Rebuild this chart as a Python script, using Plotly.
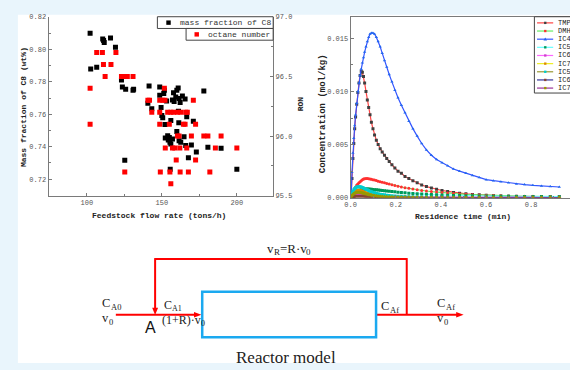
import plotly.graph_objects as go

W, H = 570, 370


def px(x):
    return x / W


def py(y):
    return 1 - y / H


# ---------------- Left chart data ----------------
flow_c8 = [102.2, 102.6, 106.6, 110.6, 111.2, 111.6, 115.8, 119.1, 123.1, 123.7,
           125.9, 130.8, 131.2, 125.3, 141.5, 140.7, 143.3, 148.6, 148.6, 149.5,
           150.0, 150.6, 151.3, 151.7, 153.2, 152.1, 156.0, 152.3, 153.9, 155.0,
           154.3, 155.4, 156.0, 157.1, 155.6, 157.1, 157.8, 158.2, 159.3, 160.0,
           160.9, 161.5, 162.2, 161.1, 161.3, 160.0, 161.5, 162.6, 163.7, 165.5,
           164.8, 166.6, 165.9, 167.7, 169.7, 171.0, 173.0, 178.0, 180.7, 189.5,
           200.0]
mass_fraction_c8 = [0.810, 0.788, 0.789, 0.8065, 0.8055, 0.8043, 0.807, 0.8013, 0.7812, 0.7768,
                    0.7754, 0.7748, 0.7754, 0.7316, 0.7774, 0.7668, 0.7634, 0.7768, 0.7718, 0.7642,
                    0.7592, 0.7578, 0.7728, 0.7748, 0.7682, 0.7537, 0.7561, 0.7453, 0.7467, 0.7457,
                    0.7441, 0.7427, 0.7417, 0.7447, 0.726, 0.7688, 0.7732, 0.7678, 0.7707, 0.7748,
                    0.7762, 0.7698, 0.7672, 0.7618, 0.7547, 0.7493, 0.7437, 0.7427, 0.7712, 0.7694,
                    0.7461, 0.7584, 0.7407, 0.7331, 0.7411, 0.7557, 0.7367, 0.7744, 0.7397, 0.7391,
                    0.726]

flow_ron = [102.2, 102.2, 106.6, 110.4, 111.1, 112.2, 116.1, 119.4, 123.1, 125.3,
            127.0, 130.8, 125.3, 140.7, 141.8, 143.3, 148.6, 148.6, 148.6, 149.0,
            150.6, 151.7, 152.1, 152.3, 153.9, 155.0, 155.4, 156.0, 156.0, 157.1,
            157.8, 158.7, 159.6, 160.4, 160.4, 161.5, 162.0, 162.2, 162.6, 164.4,
            165.5, 165.9, 167.0, 166.6, 167.7, 169.7, 171.0, 172.5, 172.5, 178.0,
            180.7, 182.0, 185.7, 189.5, 200.0]
octane_number = [96.40, 96.10, 96.70, 96.70, 96.60, 96.50, 96.60, 96.70, 96.50, 96.50,
                 96.50, 96.50, 95.70, 96.30, 96.30, 96.20, 96.30, 96.20, 96.10, 95.70,
                 96.30, 96.40, 96.30, 95.90, 96.20, 96.10, 95.70, 96.20, 95.60, 95.90,
                 96.20, 95.90, 95.80, 96.20, 96.00, 96.00, 95.90, 95.70, 96.20, 96.10,
                 96.10, 96.20, 96.20, 95.90, 95.70, 96.00, 96.30, 96.10, 95.80, 96.00,
                 96.00, 95.70, 95.90, 96.00, 95.90]

# ---------------- Right chart data ----------------
time_min = [0, 0.003, 0.006, 0.010, 0.014, 0.018, 0.022, 0.027, 0.032, 0.037,
            0.042, 0.047, 0.052, 0.057, 0.062, 0.068, 0.074, 0.080, 0.086, 0.092,
            0.099, 0.106, 0.114, 0.122, 0.131, 0.140, 0.150, 0.160, 0.171, 0.183,
            0.196, 0.210, 0.225, 0.241, 0.258, 0.276, 0.295, 0.315, 0.336, 0.358,
            0.381, 0.405, 0.430, 0.456, 0.483, 0.511, 0.540, 0.570, 0.601, 0.633,
            0.666, 0.700, 0.735, 0.771, 0.808, 0.846, 0.885, 0.925]

tmp = [0, 0.0005, 0.0018, 0.0037, 0.0051, 0.0065, 0.0076, 0.0088, 0.0099, 0.0108,
       0.0115, 0.0119, 0.0118, 0.0114, 0.0108, 0.0100, 0.0092, 0.0085, 0.0078, 0.0071,
       0.0065, 0.0059, 0.0054, 0.0050, 0.0046, 0.0043, 0.0040, 0.0037, 0.0034, 0.0031,
       0.0028, 0.0025, 0.0023, 0.0020, 0.0018, 0.0016, 0.0014, 0.0012, 0.00105, 0.00092,
       0.00080, 0.00068, 0.00059, 0.00050, 0.00043, 0.00037, 0.00031, 0.00027, 0.00023, 0.00020,
       0.00017, 0.00015, 0.00013, 0.00012, 0.00011, 0.00010, 0.00009, 0.00008]

dmh = [0, 0.0001, 0.0002, 0.0004, 0.0006, 0.0008, 0.0010, 0.0012, 0.0013, 0.0014,
       0.0015, 0.0016, 0.0017, 0.00175, 0.00179, 0.0018, 0.0018, 0.00179, 0.00177, 0.00174,
       0.00170, 0.00166, 0.00161, 0.00156, 0.00150, 0.00145, 0.00140, 0.00134, 0.00128, 0.00122,
       0.00115, 0.00108, 0.00101, 0.00094, 0.00088, 0.00081, 0.00075, 0.00069, 0.00063, 0.00058,
       0.00053, 0.00048, 0.00044, 0.00040, 0.00036, 0.00032, 0.00029, 0.00026, 0.00023, 0.00021,
       0.00019, 0.00017, 0.00015, 0.00014, 0.00013, 0.00012, 0.00011, 0.00010]

ic4 = [0, 0.0006, 0.0024, 0.0042, 0.0056, 0.0068, 0.0078, 0.0089, 0.0100, 0.0108,
       0.0115, 0.0121, 0.0127, 0.0132, 0.0137, 0.0142, 0.0147, 0.0151, 0.0154, 0.0155,
       0.0155, 0.0154, 0.0151, 0.0147, 0.0142, 0.0136, 0.0129, 0.0123, 0.0116, 0.0109,
       0.0101, 0.0094, 0.0087, 0.0080, 0.0072, 0.0065, 0.0058, 0.0051, 0.0045, 0.0040,
       0.0036, 0.0033, 0.0030, 0.0027, 0.0025, 0.0023, 0.0021, 0.0019, 0.0017, 0.0016,
       0.0015, 0.0014, 0.0013, 0.00124, 0.00117, 0.00111, 0.00106, 0.00101]

ic5_a = [0, 0.00005, 0.0001, 0.0002, 0.0003, 0.00038, 0.00045, 0.00053, 0.0006, 0.00065,
         0.0007, 0.00074, 0.00077, 0.00079, 0.00081, 0.00082, 0.00082, 0.00081, 0.0008, 0.00079,
         0.00078, 0.00076, 0.00074, 0.00072, 0.0007, 0.00068, 0.00066, 0.00063, 0.00061, 0.00058,
         0.00055, 0.00052, 0.00049, 0.00046, 0.00043, 0.0004, 0.00037, 0.00035, 0.00032, 0.0003,
         0.00028, 0.00026, 0.00024, 0.00022, 0.00021, 0.00019, 0.00018, 0.00017, 0.00016, 0.00015,
         0.00014, 0.00013, 0.00012, 0.00012, 0.00011, 0.00011, 0.0001, 0.0001]

ic6_a = [0, 0.00003, 0.00006, 0.0001, 0.00014, 0.00018, 0.00021, 0.00024, 0.00026, 0.00028,
         0.00029, 0.0003, 0.0003, 0.00029, 0.00028, 0.00027, 0.00025, 0.00024, 0.00022, 0.00021,
         0.00019, 0.00018, 0.00016, 0.00015, 0.00013, 0.00012, 0.00011, 0.0001, 0.00009, 0.00008,
         0.00007, 0.00006, 0.00005, 0.00005, 0.00004, 0.00004, 0.00003, 0.00003, 0.00003, 0.00002,
         0.00002, 0.00002, 0.00002, 0.00002, 0.00002, 0.00002, 0.00002, 0.00002, 0.00002, 0.00002,
         0.00002, 0.00001, 0.00001, 0.00001, 0.00001, 0.00001, 0.00001, 0.00001]

ic7_a = [0, 0.00015, 0.0003, 0.00045, 0.00055, 0.00062, 0.00066, 0.00069, 0.0007, 0.0007,
         0.00068, 0.00065, 0.00061, 0.00057, 0.00053, 0.00048, 0.00043, 0.00039, 0.00035, 0.00031,
         0.00027, 0.00024, 0.00021, 0.00018, 0.00015, 0.00013, 0.00011, 0.00009, 0.00008, 0.00007,
         0.00006, 0.00005, 0.00004, 0.00003, 0.00003, 0.00002, 0.00002, 0.00002, 0.00001, 0.00001,
         0.00001, 0.00001, 0.00001, 0.00001, 0.00001, 0.00001, 0.00001, 0.00001, 0.00001, 0.00001,
         0.00001, 0.00001, 0.00001, 0.00001, 0.00001, 0.00001, 0.00001, 0.00001]

ic5_b = [0, 0.0002, 0.0004, 0.0006, 0.00075, 0.00086, 0.00094, 0.001, 0.00103, 0.00104,
         0.00103, 0.001, 0.00096, 0.00091, 0.00086, 0.0008, 0.00074, 0.00068, 0.00062, 0.00057,
         0.00051, 0.00046, 0.00041, 0.00037, 0.00033, 0.0003, 0.00027, 0.00024, 0.00021, 0.00019,
         0.00017, 0.00015, 0.00013, 0.00012, 0.0001, 0.00009, 0.00008, 0.00007, 0.00006, 0.00005,
         0.00005, 0.00004, 0.00004, 0.00003, 0.00003, 0.00003, 0.00002, 0.00002, 0.00002, 0.00002,
         0.00002, 0.00001, 0.00001, 0.00001, 0.00001, 0.00001, 0.00001, 0.00001]

ic6_b = [0, 0.00002, 0.00004, 0.00007, 0.0001, 0.00012, 0.00013, 0.00014, 0.00015, 0.00015,
         0.00015, 0.00014, 0.00014, 0.00013, 0.00012, 0.00011, 0.0001, 0.00009, 0.00008, 0.00008,
         0.00007, 0.00006, 0.00006, 0.00005, 0.00005, 0.00004, 0.00004, 0.00003, 0.00003, 0.00003,
         0.00002, 0.00002, 0.00002, 0.00002, 0.00002, 0.00002, 0.00002, 0.00002, 0.00002, 0.00002,
         0.00001, 0.00001, 0.00001, 0.00001, 0.00001, 0.00001, 0.00001, 0.00001, 0.00001, 0.00001,
         0.00001, 0.00001, 0.00001, 0.00001, 0.00001, 0.00001, 0.00001, 0.00001]

ic7_b = [0, 0.0001, 0.0002, 0.0003, 0.00037, 0.00042, 0.00046, 0.00049, 0.0005, 0.0005,
         0.00049, 0.00047, 0.00045, 0.00042, 0.00039, 0.00036, 0.00033, 0.0003, 0.00027, 0.00024,
         0.00021, 0.00019, 0.00017, 0.00015, 0.00013, 0.00011, 0.0001, 0.00009, 0.00008, 0.00007,
         0.00006, 0.00006, 0.00005, 0.00005, 0.00004, 0.00004, 0.00004, 0.00003, 0.00003, 0.00003,
         0.00003, 0.00003, 0.00003, 0.00003, 0.00003, 0.00002, 0.00002, 0.00002, 0.00002, 0.00002,
         0.00002, 0.00002, 0.00002, 0.00002, 0.00002, 0.00002, 0.00002, 0.00002]

series_names = ["TMP", "DMH", "IC4", "IC5", "IC6", "IC7", "IC5", "IC6", "IC7"]
series_values = [tmp, dmh, ic4, ic5_a, ic6_a, ic7_a, ic5_b, ic6_b, ic7_b]
line_colors = ["#FF4444", "#66EE66", "#3355FF", "#66FFFF", "#FF66FF", "#EEEE22", "#999933", "#333399", "#993399"]
marker_colors = ["#404040", "#FF3030", "#2266EE", "#00995A", "#CC44CC", "#DD8800", "#00CCCC", "#884433", "#999900"]
marker_symbols = ["square", "circle", "triangle-up", "square", "circle", "diamond", "square", "circle", "diamond"]

# ---------------- Figure ----------------
fig = go.Figure()

fig.add_trace(go.Scatter(x=flow_c8, y=mass_fraction_c8, mode="markers",
                         marker=dict(symbol="square", size=5, color="#000000"),
                         xaxis="x", yaxis="y", showlegend=False, name="mass fraction of C8"))
fig.add_trace(go.Scatter(x=flow_ron, y=octane_number, mode="markers",
                         marker=dict(symbol="square", size=5, color="#FF0000"),
                         xaxis="x", yaxis="y2", showlegend=False, name="octane number"))

for name, vals, lc, mc, sym in zip(series_names, series_values, line_colors, marker_colors, marker_symbols):
    fig.add_trace(go.Scatter(x=time_min, y=vals, mode="lines+markers",
                             line=dict(color=lc, width=1.2),
                             marker=dict(symbol=sym, size=3, color=mc),
                             xaxis="x2", yaxis="y3", showlegend=False, name=name))

tick_font = dict(family="Liberation Mono", size=7, color="#555555")
axis_common = dict(showgrid=False, zeroline=False, showline=True, linecolor="#7a7a7a", linewidth=1,
                   ticks="inside", ticklen=3, tickcolor="#7a7a7a", tickfont=tick_font)

fig.update_layout(
    width=W, height=H, autosize=False,
    margin=dict(l=0, r=0, t=0, b=0),
    paper_bgcolor="#E9F5FC", plot_bgcolor="rgba(0,0,0,0)",
    xaxis=dict(domain=[px(43), px(270)], range=[74.5, 224.2], anchor="y",
               tickvals=[100, 150, 200], minor=dict(ticks="inside", ticklen=2, tickvals=[125, 175], tickcolor="#7a7a7a"),
               **axis_common),
    yaxis=dict(domain=[py(196), py(13)], range=[0.7097, 0.8202], anchor="x",
               tickvals=[0.72, 0.74, 0.76, 0.78, 0.80, 0.82], tickformat=".2f",
               minor=dict(ticks="inside", ticklen=2, tickvals=[0.73, 0.75, 0.77, 0.79, 0.81], tickcolor="#7a7a7a"),
               **axis_common),
    yaxis2=dict(overlaying="y", side="right", anchor="x", range=[95.5, 97.0],
                tickvals=[95.5, 96.0, 96.5, 97.0], tickformat=".1f",
                minor=dict(ticks="inside", ticklen=2, tickvals=[95.75, 96.25, 96.75], tickcolor="#7a7a7a"),
                **axis_common),
    xaxis2=dict(domain=[px(348.3), 1.0], range=[0, 0.9724], anchor="y3", mirror=True,
                tickvals=[0, 0.2, 0.4, 0.6, 0.8], tickformat=".1f",
                minor=dict(ticks="inside", ticklen=2, tickvals=[0.1, 0.3, 0.5, 0.7, 0.9], tickcolor="#7a7a7a"),
                **axis_common),
    yaxis3=dict(domain=[py(198), py(13)], range=[0, 0.01703], anchor="x2",
                tickvals=[0, 0.005, 0.010, 0.015], tickformat=".3f",
                minor=dict(ticks="inside", ticklen=2, tickvals=[0.0025, 0.0075, 0.0125], tickcolor="#7a7a7a"),
                **axis_common),
)

shapes = []
annotations = []

# white canvas
shapes.append(dict(type="rect", xref="paper", yref="paper", x0=px(12), x1=1.0, y0=py(367), y1=py(11),
                   fillcolor="#FFFFFF", line=dict(width=0), layer="below"))


def text(x, y, s, size=8, family="Liberation Mono", angle=0, xanchor="center", color="#222222", bold=False):
    if bold:
        s = "<b>" + s + "</b>"
    annotations.append(dict(x=px(x), y=py(y), xref="paper", yref="paper", text=s, showarrow=False,
                            textangle=angle, xanchor=xanchor, yanchor="middle", borderpad=0,
                            font=dict(family=family, size=size, color=color)))


# axis titles
text(17.5, 105, "Mass fraction of C8 (wt%)", size=8, angle=-90, bold=True)
text(155, 216, "Feedstock flow rate (tons/h)", size=8, bold=True)
text(297.7, 102, "RON", size=8, angle=-90, bold=True)
text(320, 112, "Concentration (mol/kg)", size=9, angle=-90, bold=True)
text(462, 217, "Residence time (min)", size=8, bold=True)

# left legend boxes
shapes.append(dict(type="rect", xref="paper", yref="paper", x0=px(153), x1=px(270), y0=py(25), y1=py(13),
                   fillcolor="#FFFFFF", line=dict(color="#444444", width=1), layer="above"))
shapes.append(dict(type="rect", xref="paper", yref="paper", x0=px(182), x1=px(270), y0=py(37), y1=py(25),
                   fillcolor="#FFFFFF", line=dict(color="#444444", width=1), layer="above"))
shapes.append(dict(type="rect", xref="paper", yref="paper", x0=px(162), x1=px(166.5), y0=py(21.3), y1=py(16.8),
                   fillcolor="#000000", line=dict(width=0), layer="above"))
shapes.append(dict(type="rect", xref="paper", yref="paper", x0=px(190.5), x1=px(195), y0=py(33.3), y1=py(28.8),
                   fillcolor="#FF0000", line=dict(width=0), layer="above"))
text(268.5, 19, "mass fraction of C8", size=8, xanchor="right", color="#333333")
text(268.5, 31, "octane number", size=8, xanchor="right", color="#333333")

# right legend
shapes.append(dict(type="rect", xref="paper", yref="paper", x0=px(534), x1=px(575), y0=py(91), y1=py(13),
                   fillcolor="#FFFFFF", line=dict(color="#444444", width=1), layer="above"))
for i, (name, lc, mc, sym) in enumerate(zip(series_names, line_colors, marker_colors, marker_symbols)):
    yy = 19.3 + i * 8.33
    shapes.append(dict(type="line", xref="paper", yref="paper", x0=px(536.7), x1=px(553), y0=py(yy), y1=py(yy),
                       line=dict(color=lc, width=1.2), layer="above"))
    if sym == "triangle-up":
        path = f"M {px(545)} {py(yy - 1.8)} L {px(546.8)} {py(yy + 1.4)} L {px(543.2)} {py(yy + 1.4)} Z"
        shapes.append(dict(type="path", xref="paper", yref="paper", path=path,
                           fillcolor=mc, line=dict(width=0), layer="above"))
    else:
        shapes.append(dict(type="rect", xref="paper", yref="paper", x0=px(543.8), x1=px(546.2),
                           y0=py(yy + 1.2), y1=py(yy - 1.2), fillcolor=mc, line=dict(width=0), layer="above"))
    text(556.8, yy, name, size=7, family="Liberation Mono", xanchor="left", color="#222222")

# ---------------- Reactor diagram ----------------
RED = "#FF0000"
BLUE = "#1BA9F0"
y_main = 317.7
y_top = 260.7


def seg(x0, y0, x1, y1, color=RED, width=2):
    shapes.append(dict(type="line", xref="paper", yref="paper", x0=px(x0), y0=py(y0), x1=px(x1), y1=py(y1),
                       line=dict(color=color, width=width)))


def tri(points, color=RED):
    p = "M " + " L ".join(f"{px(a)} {py(b)}" for a, b in points) + " Z"
    shapes.append(dict(type="path", xref="paper", yref="paper", path=p, fillcolor=color, line=dict(width=0)))


# inlet
seg(111, y_main, 191, y_main)
tri([(197.5, y_main), (190, y_main - 2.8), (190, y_main + 2.8)])
# recycle loop
seg(150.7, y_top, 405, y_top)
seg(150.7, y_top - 1, 150.7, 311)
tri([(150.7, 318), (147.7, 310.5), (153.7, 310.5)])
seg(405, y_top - 1, 405, y_main)
# outlet
seg(374, y_main, 456, y_main)
tri([(462.5, y_main), (455, y_main - 2.8), (455, y_main + 2.8)])
# reactor box
shapes.append(dict(type="rect", xref="paper", yref="paper", x0=px(198.3), x1=px(374), y0=py(340.7), y1=py(294),
                   line=dict(color=BLUE, width=2.5), fillcolor="rgba(0,0,0,0)"))

serif = "Liberation Serif"
EM = {"C": 0.667, "A": 0.722, "v": 0.5, "R": 0.667, "=": 0.564, "·": 0.25, "(": 0.333,
      "1": 0.5, "+": 0.564, ")": 0.333, "0": 0.5, "f": 0.333}


def rich(x, y, pieces, base=12.5, sub=8.5, anchor="left", color="#222222", drop=4.2, gap=1.0):
    widths = [sum(EM[c] for c in s) * (sub if is_sub else base) + gap for s, is_sub in pieces]
    cx = x - sum(widths) / 2 if anchor == "center" else x
    for (s, is_sub), w in zip(pieces, widths):
        text(cx, y + (drop if is_sub else 0), s, size=(sub if is_sub else base), family=serif,
             xanchor="left", color=color)
        cx += w


rich(285, 249.5, [("v", False), ("R", True), ("=R·v", False), ("0", True)], base=13, sub=9, anchor="center", gap=0.6)
rich(96.5, 306, [("C", False), ("A0", True)], gap=0.3)
rich(96.5, 320.5, [("v", False), ("0", True)], gap=0.3)
text(146.3, 330.5, "A", size=16, family="Liberation Sans", color="#111111")
rich(158.2, 307.2, [("C", False), ("A1", True)], base=12, sub=8, drop=3.8, gap=0.3)
rich(157.0, 322.6, [("(1+R)·v", False), ("0", True)], base=12, sub=8, drop=3.8, gap=1.5)
rich(378.3, 308.3, [("C", False), ("Af", True)], gap=0.3)
rich(435, 306, [("C", False), ("Af", True)], gap=0.3)
rich(435, 320.5, [("v", False), ("0", True)], gap=0.3)
text(283.3, 361.5, "Reactor model", size=17, family=serif)

fig.update_layout(shapes=shapes, annotations=annotations)
fig.write_html("out.html")
